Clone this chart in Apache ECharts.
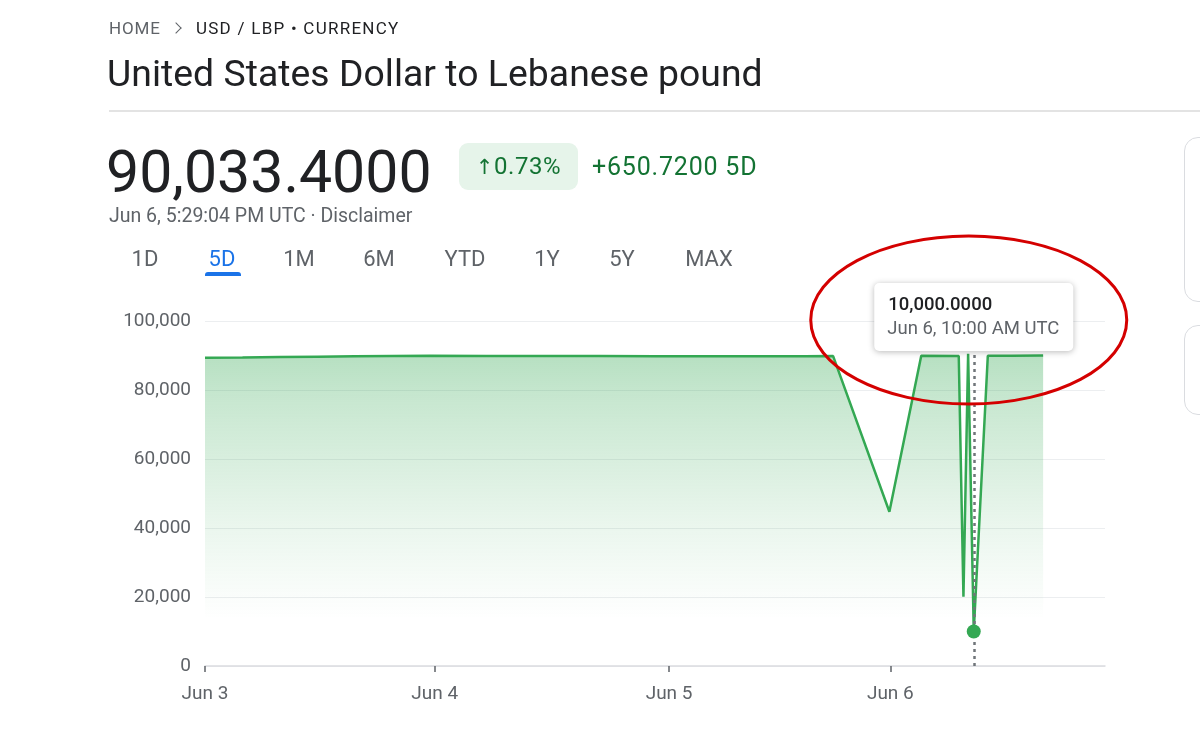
<!DOCTYPE html>
<html><head><meta charset="utf-8">
<script src="https://cdn.jsdelivr.net/npm/echarts@6/dist/echarts.min.js"></script>
<style>
html,body{margin:0;padding:0;width:1200px;height:739px;overflow:hidden;background:#fff;font-family:Roboto,"Noto Sans",Arial,sans-serif;}
#chart{position:absolute;left:0;top:0;width:1200px;height:739px;}
.abs{position:absolute;white-space:nowrap;line-height:1;}
.tab{position:absolute;top:248px;width:90px;text-align:center;font-size:22px;line-height:1;color:#5f6368;}
.card{position:absolute;left:1184px;width:60px;border:1.5px solid #dadce0;border-radius:14px;}
</style></head><body>
<div id="chart"></div>

<div class="abs" style="left:109px;top:20px;font-size:17px;letter-spacing:0.9px;color:#5f6368;">HOME</div>
<div class="abs" style="left:172px;top:24px;width:7px;height:7px;border-top:1.6px solid #5f6368;border-right:1.6px solid #5f6368;transform:rotate(45deg);"></div>
<div class="abs" style="left:196px;top:20px;font-size:17px;letter-spacing:1.25px;color:#202124;">USD / LBP • CURRENCY</div>
<div class="abs" style="left:107px;top:55px;font-size:37.3px;letter-spacing:0.05px;color:#202124;">United States Dollar to Lebanese pound</div>
<div class="abs" style="left:109px;top:110px;width:1091px;height:1.5px;background:#e3e3e3;"></div>

<div class="abs" style="left:106px;top:142px;font-size:59px;color:#202124;">90,033.4000</div>
<div class="abs" style="left:459px;top:143px;width:119px;height:47px;border-radius:9px;background:#e6f4ea;"></div>
<div class="abs" style="left:459px;top:154px;width:119px;text-align:center;font-size:24px;letter-spacing:0.6px;color:#137333;"><span style="font-family:'DejaVu Sans';font-size:21px;">↑</span>0.73%</div>
<div class="abs" style="left:592px;top:154px;font-size:25px;letter-spacing:0.8px;color:#137333;">+650.7200 5D</div>
<div class="abs" style="left:109px;top:206px;font-size:19.5px;color:#5f6368;">Jun 6, 5:29:04 PM UTC · Disclaimer</div>

<div class="tab" style="left:100px;">1D</div>
<div class="tab" style="left:177px;color:#1a73e8;">5D</div>
<div class="tab" style="left:254px;">1M</div>
<div class="tab" style="left:334px;">6M</div>
<div class="tab" style="left:420px;">YTD</div>
<div class="tab" style="left:502px;">1Y</div>
<div class="tab" style="left:577px;">5Y</div>
<div class="tab" style="left:664px;">MAX</div>
<div class="abs" style="left:205px;top:272px;width:36px;height:4px;border-radius:3px 3px 0 0;background:#1a73e8;"></div>

<div class="card" style="top:137px;height:163px;"></div>
<div class="card" style="top:325px;height:88px;"></div>

<script>
// ---- data (x = hours since Jun 3, 00:00 UTC) ----
const hours  = [0, 4, 8, 12, 16, 20, 24, 30, 36, 42, 48, 54, 60, 64, 67.0, 73.0, 76.4, 80.4, 80.9, 81.4, 82.0, 83.5, 86, 89.4];
const values = [89382.68, 89450, 89550, 89650, 89750, 89850, 89900, 89880, 89850, 89820, 89800, 89780, 89760, 89800, 89820,
                44700, 89950, 89850, 20100, 90500, 10000, 89900, 89950, 90033.4];
const tickHours  = [0, 24.5, 49.5, 73.1];
const tickLabels = ['Jun 3', 'Jun 4', 'Jun 5', 'Jun 6'];
const yTicks = [0, 20000, 40000, 60000, 80000, 100000];
const hoverHour = 82.0;
const hoverValue = 10000;
const hoverTitle = '10,000.0000';
const hoverTime = 'Jun 6, 10:00 AM UTC';

const FONT = 'Roboto, "Noto Sans", Arial, sans-serif';
const chart = echarts.init(document.getElementById('chart'), null, {renderer: 'canvas'});
const seriesData = hours.map((h, i) => [h, values[i]]);

chart.setOption({
  animation: false,
  textStyle: {fontFamily: FONT},
  grid: {left: 205, right: 95, top: 321, bottom: 73, containLabel: false},
  xAxis: {
    type: 'value', min: 0, max: 96,
    axisLine: {show: true, lineStyle: {color: '#dadce0', width: 1.5}},
    axisTick: {show: true, customValues: tickHours, length: 6, lineStyle: {color: '#5f6368', width: 1.5}},
    axisLabel: {customValues: tickHours, color: '#5f6368', fontSize: 19, margin: 19, fontFamily: FONT,
      formatter: v => { const i = tickHours.indexOf(v); return i >= 0 ? tickLabels[i] : ''; }},
    splitLine: {show: false}
  },
  yAxis: {
    type: 'value', min: yTicks[0], max: yTicks[yTicks.length - 1], interval: 20000,
    axisLine: {show: false}, axisTick: {show: false},
    axisLabel: {color: '#5f6368', fontSize: 19, margin: 14, fontFamily: FONT,
      formatter: v => v.toLocaleString('en-US')},
    splitLine: {show: true, lineStyle: {color: '#eceef0', width: 1}}
  },
  series: [{
    type: 'line',
    data: seriesData,
    showSymbol: false,
    lineStyle: {color: '#34a853', width: 2.5},
    areaStyle: {opacity: 1, color: new echarts.graphic.LinearGradient(0, 0, 0, 1, [
      {offset: 0, color: 'rgba(52,168,83,0.36)'},
      {offset: 0.15, color: 'rgba(52,168,83,0.27)'},
      {offset: 0.55, color: 'rgba(52,168,83,0.10)'},
      {offset: 0.85, color: 'rgba(52,168,83,0.0)'},
      {offset: 1, color: 'rgba(52,168,83,0.0)'}
    ])},
    markLine: {
      silent: true, symbol: 'none', label: {show: false},
      lineStyle: {color: '#70757a', width: 2.5, type: [3, 4]},
      data: [{xAxis: hoverHour}]
    },
    markPoint: {
      silent: true, symbol: 'circle', symbolSize: 14, label: {show: false},
      itemStyle: {color: '#34a853'},
      data: [{coord: [hoverHour, hoverValue]}]
    }
  }]
});

// tooltip-like box and red annotation ellipse, placed from the hovered point's pixel position
const pt = chart.convertToPixel({gridIndex: 0}, [hoverHour, hoverValue]);
const topY = chart.convertToPixel({gridIndex: 0}, [hoverHour, yTicks[yTicks.length - 1]])[1];
const boxW = 199, boxH = 68;
const bx = pt[0] - boxW / 2, by = topY - 38;
chart.setOption({
  graphic: [
    {type: 'rect', z: 100, shape: {x: bx, y: by, width: boxW, height: boxH, r: 5},
     style: {fill: '#ffffff', shadowBlur: 6, shadowColor: 'rgba(0,0,0,0.28)', shadowOffsetY: 1}},
    {type: 'text', z: 101, x: bx + 14, y: by + 22,
     style: {text: hoverTitle, fill: '#202124', font: '500 18.5px ' + FONT, textVerticalAlign: 'middle'}},
    {type: 'text', z: 101, x: bx + 13, y: by + 46,
     style: {text: hoverTime, fill: '#5f6368', font: '18.5px ' + FONT, textVerticalAlign: 'middle'}},
    {type: 'ellipse', z: 110, shape: {cx: pt[0] - 5, cy: topY - 1, rx: 158, ry: 84},
     style: {fill: 'none', stroke: '#d40000', lineWidth: 3}}
  ]
});
</script>
</body></html>
